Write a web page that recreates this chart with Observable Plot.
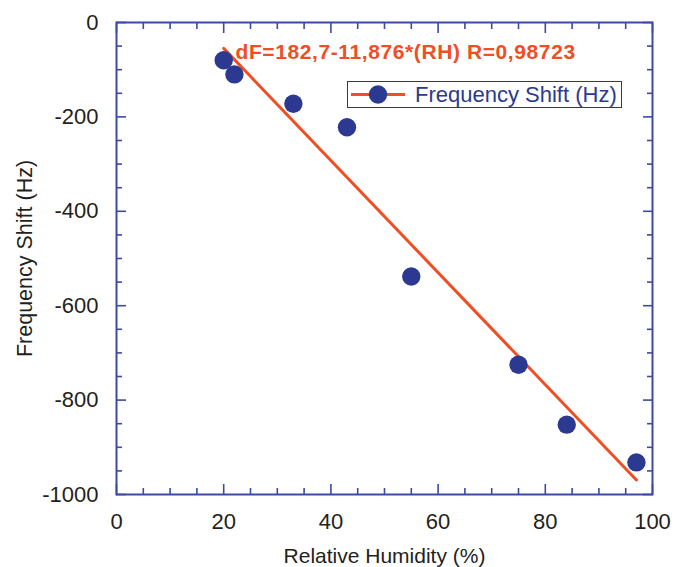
<!DOCTYPE html>
<html>
<head>
<meta charset="utf-8">
<script src="https://cdn.jsdelivr.net/npm/d3@7"></script>
<script src="https://cdn.jsdelivr.net/npm/@observablehq/plot@0.6"></script>
<style>
  html, body { margin: 0; padding: 0; background: #fff; }
  #wrap { position: relative; width: 685px; height: 567px; font-family: "Liberation Sans", Arial, sans-serif; }
  #legend { position: absolute; left: 347px; top: 81px; width: 273px; height: 25px; border: 1.5px solid #3a3a3a; background: #fff; }
  #legend svg { position: absolute; left: 0; top: 0; }
  #legend span { position: absolute; left: 67px; top: 0px; font-size: 22px; line-height: 25px; color: #2b3990; white-space: nowrap; }
</style>
</head>
<body>
<div id="wrap"><div id="legend"></div></div>
<script>
// ---- data ----
const humidity = [20, 22, 33, 43, 55, 75, 84, 97];          // Relative Humidity (%)
const freqShift = [-80, -110, -172, -222, -538, -725, -852, -932]; // Frequency Shift (Hz)
const fitIntercept = 182.7;
const fitSlope = -11.876;
const fitRange = [20, 97];
const equationText = "dF=182,7-11,876*(RH) R=0,98723";
const seriesName = "Frequency Shift (Hz)";
const xTitle = "Relative Humidity (%)";
const yTitle = "Frequency Shift (Hz)";
const xMajor = [0, 20, 40, 60, 80, 100];
const xMinor = [5, 10, 15, 25, 30, 35, 45, 50, 55, 65, 70, 75, 85, 90, 95];
const yMajor = [-1000, -800, -600, -400, -200, 0];
const yMinor = [-950, -900, -850, -750, -700, -650, -550, -500, -450, -350, -300, -250, -150, -100, -50];

// ---- styles ----
const axisColor = "#3c4aa3";
const dotColor = "#2b3990";
const lineColor = "#f04e23";
const textColor = "#231f20";

const points = humidity.map((h, i) => ({x: h, y: freqShift[i]}));
const fit = fitRange.map(x => ({x, y: fitIntercept + fitSlope * x}));

const tickAxes = [];
for (const anchor of ["bottom", "top"]) {
  tickAxes.push(Plot.axisX(xMajor, {anchor, tickSize: -10, tickFormat: () => "", label: null, stroke: axisColor, strokeWidth: 1.6}));
  tickAxes.push(Plot.axisX(xMinor, {anchor, tickSize: -6, tickFormat: () => "", label: null, stroke: axisColor, strokeWidth: 1.6}));
}
for (const anchor of ["left", "right"]) {
  tickAxes.push(Plot.axisY(yMajor, {anchor, tickSize: -10, tickFormat: () => "", label: null, stroke: axisColor, strokeWidth: 1.6}));
  tickAxes.push(Plot.axisY(yMinor, {anchor, tickSize: -6, tickFormat: () => "", label: null, stroke: axisColor, strokeWidth: 1.6}));
}

const chart = Plot.plot({
  width: 685,
  height: 567,
  marginLeft: 116,
  marginRight: 33,
  marginTop: 22,
  marginBottom: 73,
  x: {domain: [0, 100], label: null},
  y: {domain: [-1000, 0], label: null},
  style: {fontFamily: "'Liberation Sans', Arial, sans-serif", color: textColor, background: "#fff", overflow: "visible"},
  marks: [
    Plot.line(fit, {x: "x", y: "y", stroke: lineColor, strokeWidth: 3}),
    Plot.dot(points, {x: "x", y: "y", r: 9.2, fill: dotColor}),
    ...tickAxes,
    Plot.frame({stroke: axisColor, strokeWidth: 2}),
    Plot.axisX(xMajor, {anchor: "bottom", tickSize: 0, tickPadding: 19, label: null, fontSize: 22, fill: textColor, tickFormat: d => String(d)}),
    Plot.axisY(yMajor, {anchor: "left", tickSize: 0, tickPadding: 18, label: null, fontSize: 22, fill: textColor, tickFormat: d => String(d)}),
    Plot.text([xTitle], {frameAnchor: "bottom", dy: 62, textAnchor: "middle", lineAnchor: "middle", fontSize: 21, fill: textColor}),
    Plot.text([yTitle], {frameAnchor: "left", dx: -91, rotate: -90, textAnchor: "middle", lineAnchor: "middle", fontSize: 21.5, fill: textColor}),
    Plot.text([equationText], {frameAnchor: "top-left", dx: 119, dy: 30, textAnchor: "start", lineAnchor: "middle", fontSize: 21, fontWeight: "bold", fill: lineColor})
  ]
});

d3.select(chart).selectAll("text").filter(function() { return this.textContent === equationText; })
  .style("letter-spacing", "0.6px");

document.getElementById("wrap").prepend(chart);

// legend
const legend = d3.select("#legend");
const lsvg = legend.append("svg").attr("width", 273).attr("height", 25);
lsvg.append("line").attr("x1", 3).attr("x2", 57).attr("y1", 12.5).attr("y2", 12.5)
  .attr("stroke", lineColor).attr("stroke-width", 3);
lsvg.append("circle").attr("cx", 30).attr("cy", 12.5).attr("r", 9.2).attr("fill", dotColor);
legend.append("span").text(seriesName);
</script>
</body>
</html>
